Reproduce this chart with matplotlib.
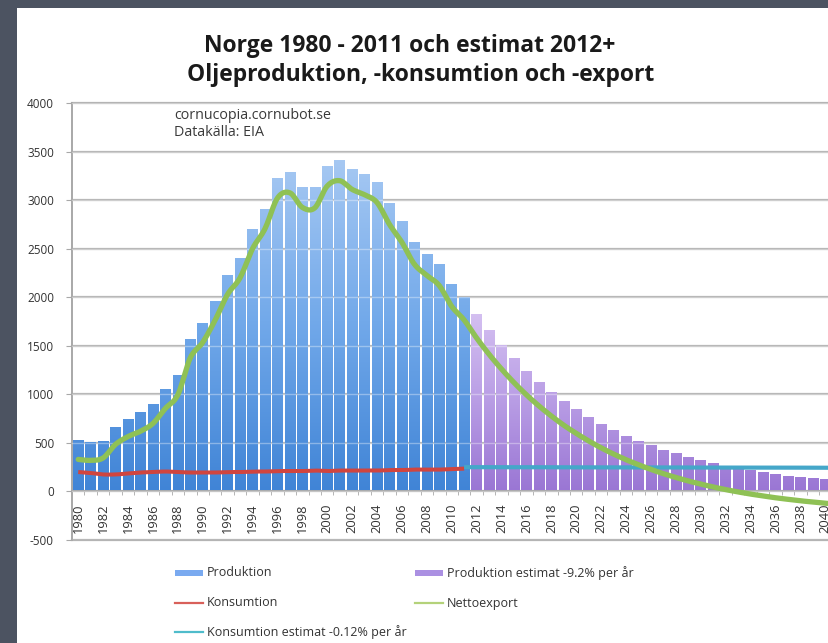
import numpy as np
import matplotlib
matplotlib.use("Agg")
import matplotlib.pyplot as plt
from matplotlib.colors import LinearSegmentedColormap
from matplotlib.patches import Rectangle
from matplotlib.lines import Line2D

# ---------------- data (thousand barrels per day) ----------------
years_hist = list(range(1980, 2012))
produktion = [530, 510, 520, 660, 750, 815, 900, 1060, 1195, 1570, 1730, 1960,
              2230, 2400, 2705, 2910, 3230, 3285, 3135, 3135, 3355, 3415, 3325,
              3270, 3190, 2970, 2785, 2565, 2450, 2345, 2135, 2000]
konsumtion = [200, 190, 175, 175, 185, 195, 200, 205, 200, 195, 195, 195,
              200, 200, 205, 205, 210, 210, 210, 215, 210, 215, 215, 215,
              215, 220, 220, 225, 225, 225, 230, 235]

years_est = list(range(2012, 2042))
produktion_est = [1830, 1662, 1509, 1370, 1244, 1130, 1026, 931, 846, 768,
                  697, 633, 575, 522, 474, 430, 391, 355, 322, 292,
                  265, 241, 219, 199, 180, 164, 149, 135, 123, 111]

years_kons_est = list(range(2011, 2042))
konsumtion_est = [250, 250, 250, 249, 249, 249, 249, 249, 248, 248, 248,
                  248, 248, 247, 247, 247, 247, 247, 246, 246, 246, 246,
                  246, 245, 245, 245, 245, 245, 244, 244, 244]

years_netto = list(range(1980, 2042))
nettoexport = [330, 320, 345, 485, 565, 620, 700, 855, 995, 1375, 1535, 1765,
               2030, 2200, 2500, 2705, 3020, 3075, 2925, 2920, 3145, 3200, 3110,
               3055, 2975, 2750, 2565, 2340, 2225, 2120, 1905, 1765,
               1580, 1412, 1260, 1121, 995, 881, 777, 682, 598, 520,
               449, 385, 327, 275, 227, 183, 144, 108, 76, 46,
               19, -5, -27, -46, -65, -81, -96, -109, -121, -133]

yticks = [-500, 0, 500, 1000, 1500, 2000, 2500, 3000, 3500, 4000]
xtick_years = list(range(1980, 2042, 2))

title1 = "Norge 1980 - 2011 och estimat 2012+"
title2 = "Oljeproduktion, -konsumtion och -export"
note = "cornucopia.cornubot.se\nDatakälla: EIA"
labels = ["Produktion", "Produktion estimat -9.2% per år", "Konsumtion",
          "Nettoexport", "Konsumtion estimat -0.12% per år"]

# ---------------- styling ----------------
W, H = 829, 643
fig = plt.figure(figsize=(W / 100, H / 100), dpi=100)
fig.patch.set_facecolor("white")
# dark screenshot border (left and top)
fig.patches.append(Rectangle((0, 0), 17 / W, 1, transform=fig.transFigure,
                             facecolor="#4c5361", edgecolor="none", zorder=-5))
fig.patches.append(Rectangle((0, 1 - 8 / H), 1, 8 / H, transform=fig.transFigure,
                             facecolor="#4c5361", edgecolor="none", zorder=-5))

def fx(x):
    return x / W

def fy(y):
    return 1 - y / H

x_left = 1979.5
x_right = 2041.5
px_per_year = 12.45
ax_left_px = 72
ax_w_px = (x_right - x_left) * px_per_year
ax = fig.add_axes([fx(ax_left_px), fy(540), ax_w_px / W, (540 - 103) / H])
ax.set_facecolor("none")
ax.set_zorder(2)

blue_cmap = LinearSegmentedColormap.from_list("b", ["#4084d6", "#72a9ea", "#a9caf3"])
purp_cmap = LinearSegmentedColormap.from_list("p", ["#9a76d4", "#bba0e6", "#d9c6f3"])

def gradient_bars(xs, vals, cmap, vtop):
    bars = ax.bar(xs, vals, width=0.84, color="none", edgecolor="none", zorder=2)
    grad = np.linspace(0, 1, 256).reshape(-1, 1)
    for b in bars:
        x0 = b.get_x()
        im = ax.imshow(grad, cmap=cmap, origin="lower", aspect="auto",
                       extent=(x0, x0 + b.get_width(), 0, vtop), zorder=2,
                       interpolation="bilinear")
        im.set_clip_path(b)
    return bars

gradient_bars(years_hist, produktion, blue_cmap, 3500)
gradient_bars(years_est, produktion_est, purp_cmap, 2000)
ax.set_xlim(x_left, x_right)
ax.set_ylim(-500, 4000)

# gridlines
for v in yticks:
    ax.axhline(v, color="#b4b4b4", lw=1.6, zorder=1, clip_on=False)
    ax.axhline(v, color="white", lw=1.0, alpha=0.35, zorder=3)

def smooth(xs, ys, n=12):
    xs = np.asarray(xs, float)
    ys = np.asarray(ys, float)
    P = np.column_stack([xs, ys])
    P = np.vstack([P[0], P, P[-1]])
    out = []
    t = np.linspace(0, 1, n, endpoint=False)
    for i in range(1, len(P) - 2):
        p0, p1, p2, p3 = P[i - 1], P[i], P[i + 1], P[i + 2]
        tt = t[:, None]
        seg = 0.5 * ((2 * p1) + (-p0 + p2) * tt + (2 * p0 - 5 * p1 + 4 * p2 - p3) * tt ** 2
                     + (-p0 + 3 * p1 - 3 * p2 + p3) * tt ** 3)
        out.append(seg)
    out.append(P[-2][None, :])
    out = np.vstack(out)
    return out[:, 0], out[:, 1]

kx, ky = smooth(years_hist, konsumtion)
ax.plot(kx, ky, color="#d0453f", lw=2.9, zorder=4, solid_capstyle="butt")
cx, cy = smooth(years_kons_est, konsumtion_est)
ax.plot(cx, cy, color="#45a7c9", lw=3.0, zorder=4, solid_capstyle="butt")
nx, ny = smooth(years_netto, nettoexport)
ax.plot(nx, ny, color="#8fc155", lw=3.8, zorder=5, solid_capstyle="round")

# axes styling
for s in ["top", "right"]:
    ax.spines[s].set_visible(False)
ax.spines["left"].set_color("#a8a8a8")
ax.spines["left"].set_linewidth(1.4)
ax.spines["bottom"].set_position(("data", 0))
ax.spines["bottom"].set_color("#a8a8a8")
ax.spines["bottom"].set_linewidth(1.4)
ax.set_yticks(yticks)
ax.set_yticklabels([str(v) for v in yticks], fontsize=8.5, color="#333333",
                   family="Open Sans")
ax.tick_params(axis="y", length=4, color="#a8a8a8", pad=9)
ax.set_xticks(xtick_years)
ax.set_xticklabels([str(y) for y in xtick_years], rotation=90, fontsize=9.3,
                   color="#333333", family="Open Sans")
ax.set_xticks([y + 0.5 for y in range(1979, 2042)], minor=True)
ax.tick_params(axis="x", which="major", length=0, pad=9)
ax.tick_params(axis="x", which="minor", length=3, color="#a8a8a8")

# titles / notes
fig.text(fx(410), fy(46), title1, ha="center", va="center", fontsize=16.5,
         fontweight="bold", family="Open Sans", color="#1a1a1a")
fig.text(fx(421), fy(75), title2, ha="center", va="center", fontsize=16.5,
         fontweight="bold", family="Open Sans", color="#1a1a1a")
fig.text(fx(174), fy(124), note, ha="left", va="center", fontsize=10.3,
         family="Open Sans", color="#3a3a3a", linespacing=1.2)

# legend (manual)
leg_items = [
    ("patch", "#7aaaf0", 175, 573, labels[0]),
    ("patch", "#ab90e2", 415, 573, labels[1]),
    ("line", "#d8605a", 175, 603, labels[2]),
    ("line", "#b4d27a", 415, 603, labels[3]),
    ("line", "#4fbccb", 175, 632, labels[4]),
]
for kind, col, x, y, lab in leg_items:
    if kind == "patch":
        fig.patches.append(Rectangle((fx(x), fy(y + 3)), 28 / W, 6 / H,
                                     transform=fig.transFigure, facecolor=col,
                                     edgecolor="none"))
    else:
        fig.add_artist(Line2D([fx(x), fx(x + 28)], [fy(y), fy(y)], color=col,
                              lw=1.6, transform=fig.transFigure))
    fig.text(fx(x + 32), fy(y), lab, ha="left", va="center", fontsize=9,
             family="Open Sans", color="#333333")

fig.savefig("out.png", dpi=100, facecolor=fig.get_facecolor())
